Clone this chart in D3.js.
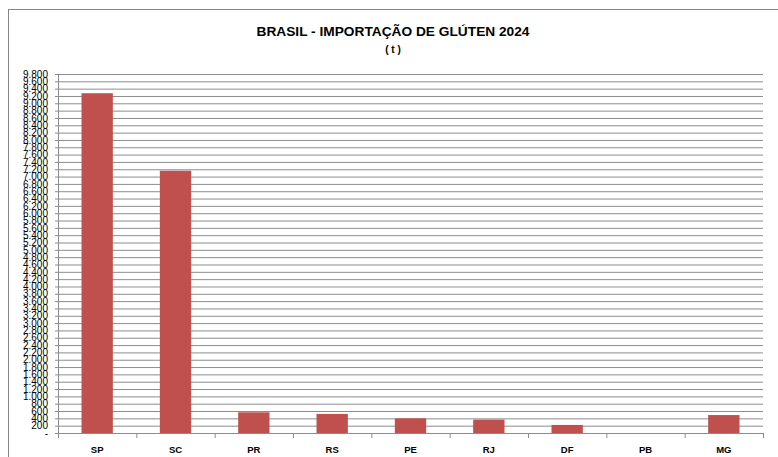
<!DOCTYPE html>
<html>
<head>
<meta charset="utf-8">
<script src="https://cdn.jsdelivr.net/npm/d3@7"></script>
<style>
  body { margin: 0; background: #fff; }
  svg { display: block; }
</style>
</head>
<body>
<div id="chart"></div>
<script>
// dados
const estados = ["SP", "SC", "PR", "RS", "PE", "RJ", "DF", "PB", "MG"];
const toneladas = [9275, 7160, 565, 520, 400, 365, 220, 0, 490];
const yTicks = d3.range(0, 9801, 200);

const width = 778, height = 457;
const plotLeft = 58, plotRight = 763, plotTop = 74, plotBottom = 433;

const svg = d3.select("#chart").append("svg")
    .attr("width", width)
    .attr("height", height);

// moldura
svg.append("rect")
    .attr("x", 8.5).attr("y", 9.5)
    .attr("width", 790).attr("height", 470)
    .attr("fill", "none")
    .attr("stroke", "#868686")
    .attr("stroke-width", 1);

const br = d3.formatLocale({ decimal: ",", thousands: ".", grouping: [3], currency: ["R$", ""] });
const fmt = br.format(",.0f");

const x = d3.scaleBand()
    .domain(estados)
    .range([plotLeft, plotRight])
    .paddingInner(0.6)
    .paddingOuter(0.3);

const y = d3.scaleLinear()
    .domain([0, 9800])
    .range([plotBottom, plotTop]);

// linhas de grade
const yAxis = d3.axisLeft(y)
    .tickValues(yTicks)
    .tickSize(-(plotRight - plotLeft + 3))
    .tickPadding(10)
    .tickFormat(d => d === 0 ? "-" : fmt(d));

const gy = svg.append("g")
    .attr("transform", `translate(${plotLeft - 3},0)`)
    .call(yAxis);
gy.select(".domain").remove();
gy.selectAll(".tick line")
    .attr("stroke", "#8c8c8c")
    .attr("stroke-width", 1);
gy.selectAll(".tick text")
    .attr("x", -7)
    .style("font-family", "Liberation Sans, Arial, sans-serif")
    .style("font-size", "10px")
    .attr("fill", "#000");

// eixo vertical
svg.append("line")
    .attr("x1", plotLeft + 0.5).attr("x2", plotLeft + 0.5)
    .attr("y1", plotTop).attr("y2", plotBottom)
    .attr("stroke", "#8c8c8c");

// barras
svg.append("g")
    .selectAll("rect")
    .data(estados)
    .enter().append("rect")
    .attr("x", (d) => x(d))
    .attr("width", x.bandwidth())
    .attr("y", (d, i) => y(toneladas[i]))
    .attr("height", (d, i) => y(0) - y(toneladas[i]))
    .attr("fill", "#C0504D");

// eixo horizontal
svg.append("line")
    .attr("x1", plotLeft).attr("x2", plotRight)
    .attr("y1", plotBottom + 0.5).attr("y2", plotBottom + 0.5)
    .attr("stroke", "#8c8c8c");

const step = x.step();
svg.append("g")
    .selectAll("line")
    .data(d3.range(estados.length + 1))
    .enter().append("line")
    .attr("x1", d => plotLeft + d * step + 0.5)
    .attr("x2", d => plotLeft + d * step + 0.5)
    .attr("y1", plotBottom)
    .attr("y2", plotBottom + 5)
    .attr("stroke", "#8c8c8c");

svg.append("g")
    .selectAll("text")
    .data(estados)
    .enter().append("text")
    .attr("x", d => x(d) + x.bandwidth() / 2)
    .attr("y", 453)
    .attr("text-anchor", "middle")
    .style("font-family", "Liberation Sans, Arial, sans-serif")
    .style("font-size", "9.5px")
    .style("font-weight", "bold")
    .text(d => d);

// título
svg.append("text")
    .attr("x", 393)
    .attr("y", 36)
    .attr("text-anchor", "middle")
    .style("font-family", "Liberation Sans, Arial, sans-serif")
    .style("font-size", "13.5px")
    .style("font-weight", "bold")
    .attr("textLength", 273)
    .attr("lengthAdjust", "spacingAndGlyphs")
    .text("BRASIL - IMPORTAÇÃO  DE GLÚTEN 2024");

svg.append("text")
    .attr("x", 393)
    .attr("y", 53)
    .attr("text-anchor", "middle")
    .style("font-family", "Liberation Sans, Arial, sans-serif")
    .style("font-size", "10px")
    .style("font-weight", "bold")
    .text("( t )");
</script>
</body>
</html>
